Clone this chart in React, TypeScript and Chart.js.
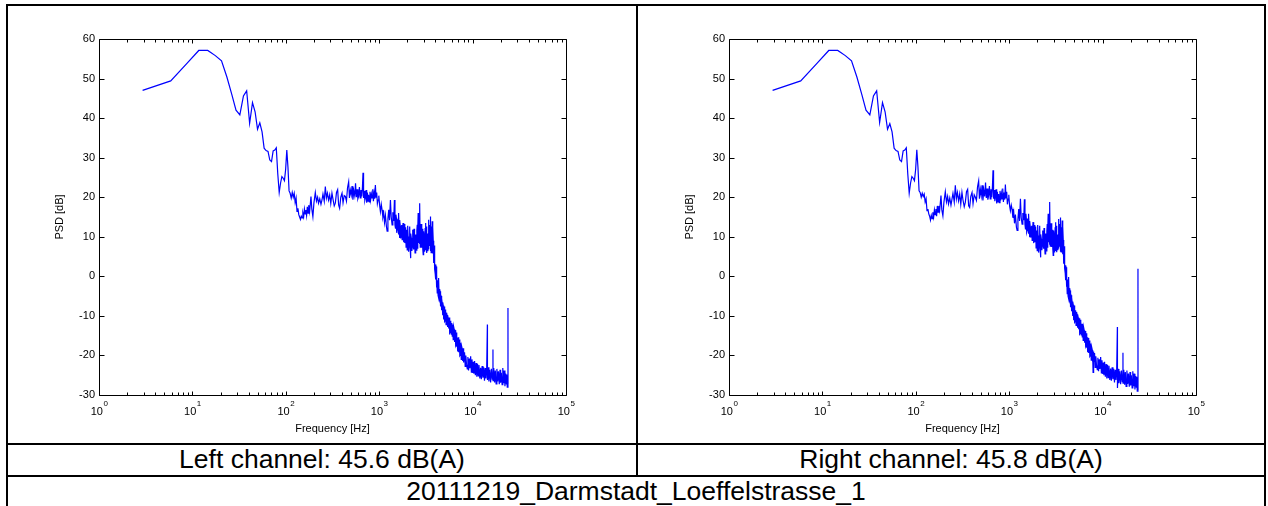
import React, { useEffect, useRef } from 'react';
import { Chart, registerables } from 'chart.js';

Chart.register(...registerables);

const FONT = 'Arial, "Liberation Sans", Helvetica, sans-serif';

// ---------- data ----------
const lowBandHz = [
  2.93, 5.86, 8.79, 11.7, 14.6, 17.6, 20.5, 23.4, 26.4, 29.3,
  32.2, 35.2, 38.1, 41.0, 44.0, 46.9, 49.8, 52.7, 55.7, 58.6,
  61.5, 64.5, 67.4, 70.3, 73.2, 76.2, 79.1, 82.0, 85.0, 87.9,
  90.8, 93.8, 96.7, 99.6, 102.5, 105.5, 108.4, 111.3,
];
const lowBandLeftDb = [
  47.0, 49.4, 53.9, 57.1, 57.1, 55.8, 54.5, 50.4, 46.0, 42.0,
  40.8, 45.6, 46.9, 38.7, 43.9, 41.6, 37.2, 38.8, 36.5, 32.4,
  31.8, 31.6, 29.4, 29.0, 31.7, 31.9, 32.5, 26.0, 21.2, 23.6,
  25.2, 24.8, 24.2, 27.0, 31.9, 27.5, 21.6, 21.0,
];
const lowBandRightDb = [
  47.0, 49.4, 53.9, 57.1, 57.1, 55.8, 54.5, 50.4, 46.0, 42.0,
  40.8, 45.6, 46.9, 38.9, 43.9, 41.6, 37.2, 38.6, 36.5, 32.4,
  31.8, 31.6, 29.4, 29.0, 31.7, 31.9, 32.5, 26.0, 21.0, 23.6,
  25.2, 24.8, 24.2, 27.0, 32.0, 27.5, 21.6, 21.2,
];

const midBandHz = [
  114.3, 117.2, 120.1, 123.0, 126.0, 128.9, 131.8, 134.8, 137.7, 140.6,
  143.6, 146.5, 149.4, 152.3, 155.3, 158.2, 161.1, 164.1, 167.0, 170.0,
  173, 176, 180, 186, 190, 195, 200, 207, 213, 219,
  224, 231, 238, 244, 250, 258, 265, 272, 279, 287,
  295, 303, 312, 320, 330, 339, 349, 359, 368, 377,
  388, 400, 410, 422, 434, 446, 458, 471, 480, 491,
  502, 512, 523, 535, 547, 558, 569, 580, 591, 602,
  614, 626, 638, 650, 661, 671, 680, 691, 702, 711,
  723, 735, 747, 759, 771, 784, 797, 810, 825, 839,
  853, 867, 882, 896, 910, 925, 940, 956, 973,
];
const midBandLeftDb = [
  19.8, 21.2, 20.0, 21.0, 18.6, 19.8, 16.4, 17.2, 15.6, 15.0,
  14.4, 15.2, 14.8, 16.0, 15.1, 17.0, 15.8, 16.8, 15.4, 17.6,
  16.0, 18.0, 16.4, 20.2, 17.0, 15.1, 18.5, 21.2, 19.0, 20.0,
  18.5, 19.6, 18.2, 19.3, 20.8, 19.0, 22.7, 19.8, 21.0, 19.3,
  20.6, 18.4, 21.0, 19.5, 17.8, 18.5, 21.2, 21.9, 18.0, 17.2,
  20.0, 21.0, 18.6, 20.4, 20.2, 19.0, 22.4, 23.9, 19.8, 21.8,
  20.6, 22.8, 19.4, 21.6, 20.4, 23.5, 20.0, 22.0, 19.6, 20.2,
  22.6, 19.8, 21.8, 20.2, 22.4, 26.2, 19.8, 21.6, 19.2, 19.8,
  21.8, 18.6, 21.2, 19.0, 20.6, 18.8, 21.4, 19.4, 20.8, 19.8,
  22.0, 19.0, 21.0, 19.6, 23.1, 20.0, 21.2, 18.4, 19.3,
];
const midBandRightDb = [
  20.0, 21.0, 20.2, 20.8, 18.8, 19.6, 16.6, 17.0, 15.8, 15.2,
  14.2, 15.4, 14.6, 16.2, 15.0, 16.8, 15.6, 17.0, 15.2, 17.8,
  16.2, 17.8, 16.6, 20.4, 16.8, 15.3, 18.7, 21.4, 18.8, 20.2,
  18.3, 19.8, 18.0, 19.5, 21.0, 18.8, 23.0, 19.6, 21.2, 19.1,
  20.8, 18.2, 21.2, 19.3, 17.6, 18.7, 21.4, 22.0, 17.8, 17.4,
  20.2, 21.2, 18.4, 20.6, 20.0, 19.2, 22.6, 24.1, 19.6, 22.0,
  20.4, 23.0, 19.2, 21.8, 20.2, 23.7, 19.8, 22.2, 19.4, 20.4,
  22.8, 19.6, 22.0, 20.0, 22.6, 26.8, 19.6, 21.8, 19.0, 20.0,
  22.0, 18.4, 21.4, 18.8, 20.8, 18.6, 21.6, 19.2, 21.0, 19.6,
  22.2, 18.8, 21.2, 19.4, 23.2, 19.8, 21.4, 18.2, 19.5,
];

const upperMidHz = [
  990, 1010, 1030, 1052, 1073, 1095, 1118, 1140, 1165, 1195,
  1216, 1240, 1265, 1290, 1319, 1345, 1374, 1400, 1430, 1455,
  1475, 1493, 1510, 1525, 1540, 1556, 1573, 1590, 1605, 1619,
  1633, 1648, 1665, 1680, 1700, 1720, 1740, 1761, 1780, 1800,
  1820, 1840, 1860, 1880, 1900, 1920, 1940, 1960, 1978, 1995,
  2018, 2040, 2065, 2090, 2110, 2130, 2145, 2161, 2185, 2210,
  2235, 2260, 2285, 2311, 2335, 2360, 2390, 2420, 2445, 2470,
  2500, 2530, 2555, 2580, 2597, 2614, 2637, 2660, 2680, 2700,
  2723, 2750, 2780, 2810, 2840, 2870, 2900, 2930, 2960, 2990,
  3020, 3050, 3080, 3105, 3131, 3155, 3180, 3210, 3240, 3270,
  3300, 3325, 3350, 3373, 3396, 3423, 3450, 3475, 3500, 3520,
  3541, 3570, 3600, 3625, 3650, 3672, 3695, 3718, 3740, 3765,
  3790, 3818, 3846,
];
const upperMidLeftDb = [
  20.4, 18.0, 16.4, 18.2, 16.8, 15.0, 16.0, 13.6, 15.4, 12.6,
  11.4, 14.6, 16.8, 14.2, 19.3, 15.0, 13.0, 16.2, 14.0, 19.3,
  13.0, 12.2, 15.6, 14.8, 11.0, 11.8, 14.4, 13.6, 10.6, 16.0,
  12.4, 9.7, 14.2, 12.8, 9.6, 10.8, 13.0, 9.3, 11.6, 13.5,
  8.6, 11.0, 13.2, 8.4, 10.6, 12.4, 7.4, 9.0, 11.8, 6.7,
  12.8, 10.1, 6.2, 8.0, 11.4, 12.6, 7.2, 4.6, 10.8, 9.6,
  6.4, 7.4, 11.8, 10.1, 6.8, 12.0, 8.6, 5.9, 10.6, 9.0,
  6.6, 11.6, 13.0, 7.0, 12.2, 16.0, 8.4, 10.4, 13.4, 8.2,
  18.5, 7.4, 10.1, 13.2, 7.2, 9.6, 12.0, 6.8, 5.5, 11.4,
  9.8, 6.2, 7.6, 12.2, 13.5, 6.6, 8.8, 12.6, 5.9, 10.8,
  10.4, 6.4, 7.0, 12.8, 14.3, 7.8, 8.6, 13.0, 11.6, 6.4,
  15.1, 9.4, 6.0, 12.6, 10.2, 7.2, 13.9, 8.8, 5.8, 12.4,
  9.0, 6.4, 3.4,
];
const upperMidRightDb = [
  20.6, 17.8, 16.6, 18.0, 17.0, 14.8, 16.2, 13.4, 15.6, 12.4,
  11.6, 14.4, 17.0, 14.0, 19.6, 14.8, 13.2, 16.0, 14.2, 19.5,
  13.2, 12.0, 15.8, 14.6, 11.2, 11.6, 14.6, 13.4, 10.8, 15.8,
  12.6, 9.9, 14.0, 12.6, 9.8, 11.0, 12.8, 9.1, 11.8, 13.7,
  8.4, 11.2, 13.0, 8.6, 10.4, 12.6, 7.2, 9.2, 11.6, 6.5,
  13.0, 10.3, 6.0, 7.8, 11.6, 12.8, 7.0, 4.8, 10.6, 9.4,
  6.6, 7.6, 11.6, 9.9, 7.0, 12.2, 8.4, 5.7, 10.8, 9.2,
  6.4, 11.4, 13.2, 7.2, 12.0, 15.8, 8.6, 10.6, 13.2, 8.0,
  18.8, 7.6, 9.9, 13.4, 7.4, 9.4, 11.8, 7.0, 5.3, 11.6,
  10.0, 6.0, 7.4, 12.4, 13.7, 6.4, 8.6, 12.8, 6.1, 10.6,
  10.2, 6.6, 7.2, 12.6, 14.5, 7.6, 8.4, 13.2, 11.8, 6.2,
  14.9, 9.6, 6.2, 12.4, 10.0, 7.4, 14.1, 8.6, 5.6, 12.6,
  9.2, 6.2, 3.2,
];

const highBandHz = [
  3870, 3900, 3920, 3950, 3980, 4009, 4035, 4060, 4090, 4120,
  4150, 4181, 4210, 4240, 4270, 4300, 4325, 4350, 4385, 4420,
  4450, 4480, 4510, 4537, 4570, 4600, 4630, 4660, 4690, 4720,
  4755, 4790, 4820, 4850, 4885, 4921, 4960, 5000, 5040, 5080,
  5120, 5160, 5200, 5240, 5280, 5320, 5360, 5400, 5440, 5480,
  5525, 5572, 5615, 5660, 5710, 5760, 5810, 5860, 5910, 5960,
  6010, 6057, 6100, 6150, 6200, 6250, 6300, 6350, 6400, 6450,
  6505, 6560, 6620, 6680, 6720, 6760, 6805, 6855, 6900, 6950,
  7000, 7050, 7100, 7150, 7210, 7270, 7325, 7380, 7440, 7500,
  7560, 7620, 7685, 7750, 7805, 7860, 7910, 7960, 8015, 8070,
  8200, 8330, 8460, 8600, 8770, 8900, 9050, 9200, 9350, 9530,
  9700, 9850, 10050, 10200, 10330, 10500, 10700, 10900, 11100, 11300,
  11500, 11700, 11950, 12190, 12400, 12650, 12900, 13150, 13400, 13650,
  13900, 14150, 14390, 14420, 14700, 14950, 15250, 15600, 15900, 16250,
  16520, 16550, 16850, 17200, 17500, 17850, 18200, 18550, 18900, 19300,
  19650, 19950, 20300, 20700, 21050, 21450, 21800, 22200, 22600, 23000,
  23170, 23500, 23900, 23930, 23960,
];
const highBandLeftDb = [
  7.8, 4.2, 6.7, 1.8, 0.6, -0.8, 3.0, 2.5, -2.0, -2.8,
  0.4, -4.2, -2.0, -1.0, -4.8, -5.4, -2.6, -0.4, -5.6, -6.0,
  -3.2, -3.8, -7.2, -7.6, -4.6, -5.0, -8.6, -8.4, -5.6, -6.7,
  -9.8, -9.6, -6.6, -7.4, -10.6, -10.9, -7.6, -8.2, -11.4, -11.2,
  -8.4, -9.0, -12.2, -12.0, -9.2, -9.8, -12.8, -12.4, -9.8, -10.6,
  -13.2, -12.6, -10.4, -11.0, -14.4, -14.2, -11.2, -11.6, -14.6, -13.8,
  -11.8, -15.1, -12.2, -12.6, -16.0, -15.8, -12.8, -13.4, -16.6, -16.4,
  -13.6, -14.2, -17.4, -17.0, -14.2, -14.8, -17.8, -16.8, -15.6, -19.0,
  -15.4, -16.0, -19.2, -18.5, -16.0, -16.6, -20.0, -19.8, -16.8, -17.6,
  -21.0, -20.6, -17.8, -18.4, -21.4, -20.2, -18.2, -18.8, -21.8, -21.6,
  -19.2, -22.8, -20.0, -22.2, -23.4, -20.4, -23.8, -20.8, -23.2, -20.2,
  -24.2, -21.0, -24.4, -21.6, -24.6, -21.4, -25.0, -21.9, -25.4, -22.2,
  -25.2, -22.4, -25.8, -23.1, -26.0, -22.7, -25.6, -23.0, -26.4, -23.2,
  -25.8, -23.4, -12.2, -26.2, -23.0, -26.6, -23.6, -26.8, -23.4, -26.0,
  -18.5, -26.4, -23.2, -26.8, -23.8, -27.2, -23.4, -26.6, -24.0, -27.3,
  -23.6, -26.9, -24.4, -27.4, -23.2, -27.0, -23.8, -27.8, -24.6, -27.2,
  -24.8, -28.0, -26.5, -8.0, -27.2,
];
const highBandRightDb = [
  7.6, 4.4, 6.5, 2.0, 0.8, -1.0, 2.8, 2.3, -1.8, -2.6,
  0.2, -4.4, -1.8, -0.8, -5.0, -5.6, -2.4, -0.2, -5.8, -6.2,
  -3.0, -3.6, -7.4, -7.8, -4.4, -4.8, -8.8, -8.6, -5.4, -6.5,
  -10.0, -9.8, -6.4, -7.2, -10.8, -11.1, -7.4, -8.0, -11.6, -11.4,
  -8.6, -9.2, -12.4, -12.2, -9.0, -9.6, -13.0, -12.6, -9.6, -10.4,
  -13.4, -12.8, -10.6, -11.2, -14.6, -14.4, -11.0, -11.4, -14.8, -14.0,
  -12.0, -15.3, -12.0, -12.4, -16.2, -16.0, -13.0, -13.6, -16.8, -16.6,
  -13.8, -14.0, -17.6, -17.2, -14.4, -15.0, -18.0, -17.0, -15.4, -19.2,
  -15.6, -16.2, -19.4, -18.7, -16.2, -16.8, -20.2, -20.0, -17.0, -17.8,
  -21.2, -20.8, -18.0, -18.6, -21.6, -20.4, -24.3, -19.0, -22.0, -21.8,
  -19.4, -23.0, -20.2, -22.4, -23.6, -20.6, -24.0, -21.0, -23.4, -20.4,
  -24.4, -21.2, -24.7, -21.8, -25.0, -21.6, -25.4, -22.2, -25.8, -22.4,
  -25.6, -22.6, -26.2, -23.3, -26.4, -23.0, -26.0, -23.4, -26.8, -23.6,
  -26.2, -23.8, -12.8, -28.2, -23.4, -27.0, -24.0, -27.3, -23.8, -26.6,
  -19.3, -27.0, -23.6, -27.4, -24.2, -27.8, -23.8, -27.2, -24.6, -27.9,
  -24.2, -27.6, -25.0, -28.2, -24.0, -27.8, -24.6, -28.6, -25.2, -28.0,
  -25.4, -29.0, -27.4, 1.9, -28.8,
];

const frequencyHz = [...lowBandHz, ...midBandHz, ...upperMidHz, ...highBandHz];
const leftPsdDb = [...lowBandLeftDb, ...midBandLeftDb, ...upperMidLeftDb, ...highBandLeftDb];
const rightPsdDb = [...lowBandRightDb, ...midBandRightDb, ...upperMidRightDb, ...highBandRightDb];

const yMin = -30;
const yMax = 60;
const yStep = 10;
const xDecadeExponents = [0, 1, 2, 3, 4, 5];
const xMinorMultipliers = [2, 3, 4, 5, 6, 7, 8, 9];

const leftCaption = 'Left channel: 45.6 dB(A)';
const rightCaption = 'Right channel: 45.8 dB(A)';
const recordingTitle = '20111219_Darmstadt_Loeffelstrasse_1';
const xAxisTitle = 'Frequency [Hz]';
const yAxisTitle = 'PSD [dB]';

// ---------- MATLAB-like frame, inward ticks, 10^n labels ----------
const matlabFrame = {
  id: 'matlabFrame',
  afterDatasetsDraw(chart: any) {
    const { ctx, chartArea, scales } = chart;
    const xs = scales.x;
    const ys = scales.y;
    const l = Math.round(chartArea.left) + 0.5;
    const r = Math.round(chartArea.right) + 0.5;
    const t = Math.round(chartArea.top) + 0.5;
    const b = Math.round(chartArea.bottom) + 0.5;
    ctx.save();
    ctx.strokeStyle = '#000';
    ctx.lineWidth = 1;
    ctx.beginPath();
    ctx.rect(l, t, r - l, b - t);
    ctx.stroke();

    ctx.beginPath();
    xDecadeExponents.forEach((e) => {
      const major = Math.pow(10, e);
      const px = Math.round(xs.getPixelForValue(major)) + 0.5;
      ctx.moveTo(px, b); ctx.lineTo(px, b - 4);
      ctx.moveTo(px, t); ctx.lineTo(px, t + 4);
      if (e < 5) {
        xMinorMultipliers.forEach((m) => {
          const mx = Math.round(xs.getPixelForValue(m * major)) + 0.5;
          ctx.moveTo(mx, b); ctx.lineTo(mx, b - 3);
          ctx.moveTo(mx, t); ctx.lineTo(mx, t + 3);
        });
      }
    });
    for (let v = yMin; v <= yMax; v += yStep) {
      const py = Math.round(ys.getPixelForValue(v)) + 0.5;
      ctx.moveTo(l, py); ctx.lineTo(l + 5, py);
      ctx.moveTo(r, py); ctx.lineTo(r - 5, py);
    }
    ctx.stroke();

    // decade labels 10^n
    ctx.fillStyle = '#000';
    ctx.textBaseline = 'alphabetic';
    ctx.textAlign = 'left';
    xDecadeExponents.forEach((e) => {
      const px = xs.getPixelForValue(Math.pow(10, e));
      ctx.font = `11px ${FONT}`;
      const w1 = ctx.measureText('10').width;
      ctx.font = `8px ${FONT}`;
      const w2 = ctx.measureText(String(e)).width;
      const start = px - (w1 + w2) / 2;
      ctx.font = `11px ${FONT}`;
      ctx.fillText('10', start, b + 19);
      ctx.font = `8px ${FONT}`;
      ctx.fillText(String(e), start + w1 + 0.5, b + 10.5);
    });
    ctx.restore();
  },
};

function PsdChart({ values, width, rightPad }: { values: number[]; width: number; rightPad: number }) {
  const ref = useRef<HTMLCanvasElement | null>(null);
  useEffect(() => {
    if (!ref.current) return;
    const points = frequencyHz.map((f, i) => ({ x: f, y: values[i] }));
    const chart = new Chart(ref.current, {
      type: 'line',
      data: {
        datasets: [
          {
            data: points,
            borderColor: '#0000ff',
            borderWidth: 1.2,
            pointRadius: 0,
            tension: 0,
            fill: false,
          },
        ],
      },
      options: {
        animation: false,
        responsive: false,
        maintainAspectRatio: false,
        devicePixelRatio: 1,
        layout: { padding: { top: 32, right: rightPad, left: 0, bottom: 0 } },
        plugins: { legend: { display: false }, tooltip: { enabled: false } },
        scales: {
          x: {
            type: 'logarithmic',
            min: 1,
            max: 100000,
            grid: { display: false, drawTicks: false },
            border: { display: false },
            ticks: { display: false },
            title: {
              display: true,
              text: xAxisTitle,
              color: '#000',
              font: { family: FONT, size: 11 },
              padding: { top: 0, bottom: 7 },
            },
            afterFit: (s: any) => { s.height = 48; },
          },
          y: {
            type: 'linear',
            min: yMin,
            max: yMax,
            grid: { display: false, drawTicks: false },
            border: { display: false },
            ticks: {
              stepSize: yStep,
              color: '#000',
              padding: 4,
              font: { family: FONT, size: 11 },
            },
            title: {
              display: true,
              text: yAxisTitle,
              color: '#000',
              font: { family: FONT, size: 11 },
              padding: { top: 44, bottom: 0 },
            },
            afterFit: (s: any) => { s.width = 90; },
          },
        },
      } as any,
      plugins: [matlabFrame],
    });
    return () => chart.destroy();
  }, [values, rightPad]);
  return <canvas ref={ref} width={width} height={436} style={{ display: 'block', width, height: 436 }} />;
}

const line = (left: number, top: number, width: number, height: number): React.CSSProperties => ({
  position: 'absolute', left, top, width, height, background: '#000',
});

const captionStyle = (left: number, width: number, top: number): React.CSSProperties => ({
  position: 'absolute', left, width, top, height: 26, lineHeight: '26px', fontSize: 26.5,
  fontFamily: FONT, color: '#000', textAlign: 'center', whiteSpace: 'nowrap',
});

export default function App() {
  return (
    <div style={{ position: 'absolute', left: 0, top: 0, width: 1268, height: 506, background: '#fff', overflow: 'hidden' }}>
      <div style={{ position: 'absolute', left: 9, top: 7 }}>
        <PsdChart values={leftPsdDb} width={627} rightPad={70} />
      </div>
      <div style={{ position: 'absolute', left: 639, top: 7 }}>
        <PsdChart values={rightPsdDb} width={625} rightPad={68} />
      </div>
      <div style={captionStyle(8, 628, 446)}>{leftCaption}</div>
      <div style={captionStyle(638, 626, 446)}>{rightCaption}</div>
      <div style={captionStyle(8, 1256, 478)}>{recordingTitle}</div>
      <div style={line(6, 4, 1260, 2)} />
      <div style={line(6, 4, 2, 502)} />
      <div style={line(1264, 4, 2, 502)} />
      <div style={line(636, 4, 2, 473)} />
      <div style={line(6, 443, 1260, 2)} />
      <div style={line(6, 475, 1260, 2)} />
    </div>
  );
}
